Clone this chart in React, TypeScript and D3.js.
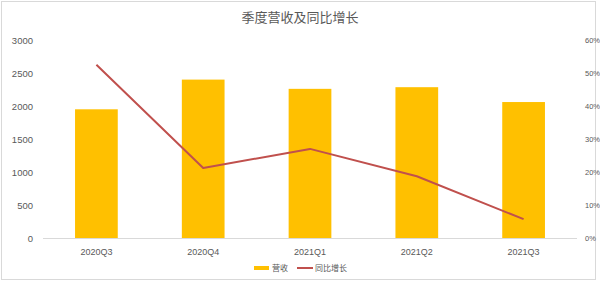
import React from "react";
import * as d3 from "d3";

const categories = ["2020Q3", "2020Q4", "2021Q1", "2021Q2", "2021Q3"];
const revenue = [1950, 2400, 2260, 2285, 2060];
const growth = [0.525, 0.212, 0.27, 0.187, 0.057];
const leftTicks = [0, 500, 1000, 1500, 2000, 2500, 3000];
const rightTicks = [0, 0.1, 0.2, 0.3, 0.4, 0.5, 0.6];

const W = 600;
const H = 282;
const margin = { left: 43, right: 23, top: 40, bottom: 44 };
const FONT = "'Liberation Sans', 'Noto Sans CJK SC', sans-serif";

export default function App() {
  const x = d3
    .scaleBand<string>()
    .domain(categories)
    .range([margin.left, W - margin.right])
    .paddingInner(0.6)
    .paddingOuter(0.3);
  const y = d3.scaleLinear().domain([0, 3000]).range([H - margin.bottom, margin.top]);
  const y2 = d3.scaleLinear().domain([0, 0.6]).range([H - margin.bottom, margin.top]);
  const line = d3
    .line<number>()
    .x((_, i) => (x(categories[i]) as number) + x.bandwidth() / 2)
    .y((d) => y2(d));
  const base = y(0);
  const fmtPct = d3.format(".0%");

  return (
    <svg
      width={W}
      height={H}
      style={{ position: "absolute", left: 0, top: 0, background: "#fff" }}
      fontFamily={FONT}
    >
      <rect x={1.5} y={1.5} width={594} height={278} fill="#fff" stroke="#d9d9d9" />
      <text x={W / 2} y={22} textAnchor="middle" fontSize={13} fill="#595959">
        季度营收及同比增长
      </text>
      <line x1={margin.left} x2={W - margin.right} y1={base + 0.5} y2={base + 0.5} stroke="#d9d9d9" />
      {leftTicks.map((t) => (
        <text key={t} x={33} y={y(t) + 3.5} textAnchor="end" fontSize={9.5} fill="#595959">
          {t}
        </text>
      ))}
      {rightTicks.map((t) => (
        <text key={t} x={585} y={y2(t) + 3} textAnchor="start" fontSize={7.5} fill="#595959">
          {fmtPct(t)}
        </text>
      ))}
      {categories.map((c, i) => (
        <rect
          key={c}
          x={x(c)}
          y={y(revenue[i])}
          width={x.bandwidth()}
          height={base - y(revenue[i])}
          fill="#FFC000"
        />
      ))}
      <path d={line(growth) || ""} fill="none" stroke="#C0504D" strokeWidth={2} strokeLinejoin="round" />
      {categories.map((c) => (
        <text
          key={c}
          x={(x(c) as number) + x.bandwidth() / 2}
          y={255}
          textAnchor="middle"
          fontSize={9}
          fill="#595959"
        >
          {c}
        </text>
      ))}
      <g>
        <rect x={254} y={266} width={15} height={4} fill="#FFC000" />
        <text x={272} y={271} fontSize={8} fill="#595959">营收</text>
        <line x1={297} x2={313} y1={268} y2={268} stroke="#C0504D" strokeWidth={2} />
        <text x={315} y={271} fontSize={8} fill="#595959">同比增长</text>
      </g>
    </svg>
  );
}
